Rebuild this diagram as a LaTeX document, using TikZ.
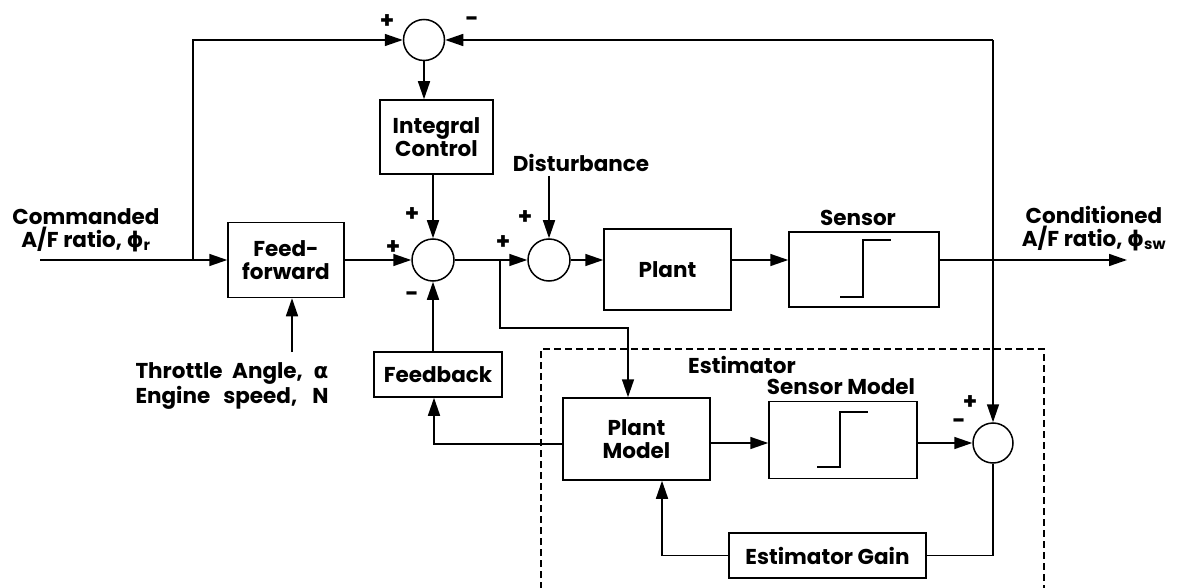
\documentclass[tikz,border=0pt]{standalone}
\usepackage{fontspec}
\setmainfont{Poppins}
\newfontfamily\gk{DejaVu Sans}
\usetikzlibrary{arrows.meta,calc}
\begin{document}
\begin{tikzpicture}[x=1pt,y=-1pt, line width=1.5pt,
  font=\bfseries\fontsize{21.5}{23}\selectfont,
  blk/.style={draw, rectangle, inner sep=0pt, align=center},
  sum/.style={draw, circle, minimum size=41pt, inner sep=0pt},
  arr/.style={-{Triangle[length=18pt,width=12pt]}},
  lbl/.style={inner sep=0pt, align=center},
  sgn/.style={inner sep=0pt, font=\bfseries\fontsize{23}{23}\selectfont},
  stepln/.style={line width=2.6pt}
]
\fill[white] (0,0) rectangle (1178,588);
\useasboundingbox (0,0) rectangle (1178,588);

% blocks
\node[sum] (s1) at (424,40) {};
\node[blk, minimum width=113pt, minimum height=74pt] (ic) at (436.5,137) {Integral\\Control};
\node[blk, minimum width=116pt, minimum height=75pt] (ff) at (286,260) {Feed-\\forward};
\node[sum, minimum size=42pt] (s2) at (433,260) {};
\node[sum, minimum size=42pt] (s3) at (549,260) {};
\node[blk, minimum width=127pt, minimum height=81pt] (pl) at (667.5,269.5) {Plant};
\node[blk, minimum width=150pt, minimum height=75pt] (se) at (864,269.5) {};
\node[blk, minimum width=128pt, minimum height=45pt] (fb) at (438,374.5) {Feedback};
\node[blk, minimum width=147pt, minimum height=82pt] (pm) at (636.5,439) {Plant\\Model};
\node[blk, minimum width=148pt, minimum height=77pt] (sm) at (843,440) {};
\node[sum, minimum size=40pt] (s4) at (993,443) {};
\node[blk, minimum width=197pt, minimum height=45pt] (eg) at (827.5,555.5) {Estimator Gain};

% labels
\node[lbl] (cmd) at (86,230) {Commanded\\A/F ratio, {\gk ϕ}\textsubscript{r}};
\node[lbl] (cond) at (1094,229) {Conditioned\\A/F ratio, {\gk ϕ}\textsubscript{sw}};
\node[lbl, align=left] (thr) at (232,386) {\makebox[193pt][s]{Throttle Angle, {\gk α}}\\\makebox[193pt][s]{Engine speed, N}};
\node[lbl] (dist) at (581,163) {Disturbance};
\node[lbl] (senl) at (858,218) {Sensor};
\node[lbl] (estl) at (742,365) {Estimator};
\node[lbl] (sml) at (841,387) {Sensor Model};

% signs
\node[sgn] at (387,22) {+};
\node[sgn] at (472,22) {-};
\node[sgn] at (412,215) {+};
\node[sgn] at (393,248) {+};
\node[sgn] at (412,297) {-};
\node[sgn] at (503,243) {+};
\node[sgn] at (525,218) {+};
\node[sgn] at (970,403) {+};
\node[sgn] at (959,424) {-};

% step symbols
\draw[stepln] ($(se.center)+(-24,27.5)$) -- ++(23,0) -- ++(0,-57) -- ++(28,0);
\draw[stepln] ($(sm.center)+(-26,27)$) -- ++(23,0) -- ++(0,-55) -- ++(28,0);

% coordinates
\coordinate (in) at (40,260);
\coordinate (j1) at (193,260);
\coordinate (tr) at (993,40);
\coordinate (j2) at (500,260);
\coordinate (j2b) at (500,328);
\coordinate (pmin) at (628,328);
\coordinate (dtop) at (549,176);
\coordinate (out) at (1127,260);
\coordinate (thtop) at (292,352);
\coordinate (fbl) at (434,444);
\coordinate (ly) at (700,443);
\coordinate (egl) at (662,555);

% connectors
\draw[arr] (in) -- (ff.west);
\draw[arr] (j1) |- (s1.west);
\draw[arr] (tr) -- (s1.east);
\draw[arr] (tr) -- (s4.north);
\draw[arr] (s1.south) -- (s1.south |- ic.north);
\draw[arr] (s2.north |- ic.south) -- (s2.north);
\draw[arr] (ff.east) -- (s2.west);
\draw[arr] (s2.east) -- (s3.west);
\draw[arr] (j2) -- (j2b) -- (pmin) -- (pmin |- pm.north);
\draw[arr] (dtop) -- (s3.north);
\draw[arr] (s3.east) -- (pl.west |- s3.east);
\draw[arr] (pl.east |- s3.east) -- (se.west |- s3.east);
\draw[arr] (se.east |- s3.east) -- (out);
\draw[arr] (thtop) -- (thtop |- ff.south);
\draw[arr] (fb.north -| s2.south) -- (s2.south);
\draw[arr] (pm.west |- fbl) -- (fbl) -- (fbl |- fb.south);
\draw[arr] (pm.east |- ly) -- (sm.west |- ly);
\draw[arr] (sm.east |- ly) -- (s4.west);
\draw (s4.south) -- (s4.south |- eg.east) -- (eg.east);
\draw[arr] (eg.west) -- (egl |- eg.west) -- (egl |- pm.south);

% estimator boundary
\draw[dash pattern=on 7pt off 4pt, line width=1.6pt] (541,600) -- (541,349) -- (1044,349) -- (1044,600);
\end{tikzpicture}
\end{document}
